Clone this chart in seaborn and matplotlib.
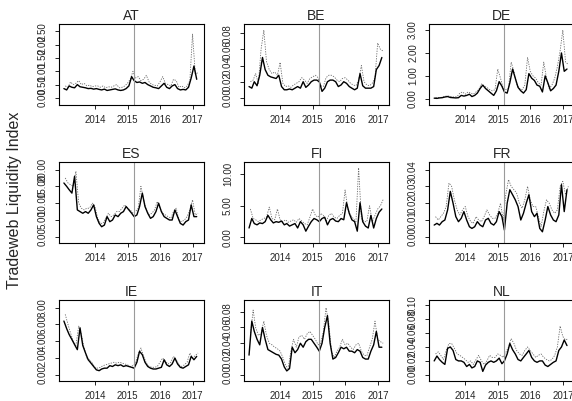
import pandas as pd
import seaborn as sns
import matplotlib.pyplot as plt
import numpy as np

# monthly readings Jan 2013 .. Feb 2017 (smoothed line) and mid-month raw index (dashed)
countries = ['AT', 'BE', 'DE', 'ES', 'FI', 'FR', 'IE', 'IT', 'NL']

at_line = [0.35, 0.30, 0.45, 0.40, 0.38, 0.50, 0.42, 0.40, 0.38, 0.35, 0.36, 0.33,
           0.35, 0.32, 0.30, 0.33, 0.28, 0.30, 0.32, 0.34, 0.30, 0.28, 0.30, 0.35,
           0.45, 0.80, 0.65, 0.58, 0.60, 0.55, 0.58, 0.50, 0.45, 0.40, 0.38, 0.35,
           0.45, 0.55, 0.40, 0.35, 0.45, 0.50, 0.35, 0.30, 0.32, 0.30, 0.40, 0.75,
           1.20, 0.70]
at_raw = [0.45, 0.40, 0.60, 0.50, 0.55, 0.65, 0.50, 0.55, 0.45, 0.48, 0.42, 0.45,
          0.45, 0.40, 0.45, 0.38, 0.42, 0.40, 0.45, 0.50, 0.38, 0.40, 0.45, 0.55,
          0.70, 1.00, 0.75, 0.80, 0.65, 0.70, 0.85, 0.60, 0.50, 0.48, 0.45, 0.60,
          0.80, 0.55, 0.50, 0.45, 0.70, 0.65, 0.40, 0.45, 0.38, 0.45, 0.65, 2.40,
          0.90, 0.95]

be_line = [0.014, 0.012, 0.020, 0.015, 0.028, 0.050, 0.035, 0.028, 0.026, 0.025, 0.024, 0.028,
           0.014, 0.010, 0.010, 0.011, 0.010, 0.012, 0.014, 0.012, 0.020, 0.013, 0.016, 0.020,
           0.022, 0.022, 0.020, 0.008, 0.012, 0.020, 0.022, 0.022, 0.020, 0.014, 0.016, 0.020,
           0.018, 0.014, 0.012, 0.010, 0.012, 0.030, 0.015, 0.012, 0.012, 0.012, 0.014, 0.035,
           0.040, 0.050]
be_raw = [0.020, 0.022, 0.030, 0.018, 0.060, 0.084, 0.045, 0.035, 0.030, 0.032, 0.028, 0.044,
          0.018, 0.014, 0.015, 0.013, 0.016, 0.018, 0.020, 0.025, 0.022, 0.018, 0.024, 0.026,
          0.028, 0.025, 0.015, 0.014, 0.025, 0.028, 0.028, 0.026, 0.022, 0.020, 0.024, 0.025,
          0.022, 0.018, 0.016, 0.015, 0.022, 0.040, 0.020, 0.016, 0.015, 0.018, 0.025, 0.068,
          0.060, 0.058]

de_line = [0.03, 0.02, 0.04, 0.05, 0.08, 0.10, 0.06, 0.05, 0.04, 0.05, 0.15, 0.12,
           0.15, 0.20, 0.10, 0.15, 0.25, 0.45, 0.60, 0.45, 0.35, 0.25, 0.15, 0.35,
           0.75, 0.55, 0.30, 0.25, 0.70, 1.30, 0.90, 0.50, 0.35, 0.25, 0.40, 1.10,
           0.90, 0.80, 0.60, 0.55, 0.30, 1.00, 0.70, 0.35, 0.45, 0.60, 1.20, 2.00,
           1.20, 1.30]
de_raw = [0.05, 0.06, 0.06, 0.09, 0.12, 0.12, 0.09, 0.08, 0.10, 0.25, 0.30, 0.20,
          0.30, 0.25, 0.20, 0.30, 0.40, 0.65, 0.55, 0.50, 0.40, 0.35, 0.40, 1.30,
          0.90, 0.45, 0.40, 0.45, 1.60, 1.20, 0.65, 0.45, 0.40, 0.60, 1.80, 1.20,
          1.00, 0.90, 0.70, 0.60, 1.60, 0.90, 0.45, 0.60, 0.90, 1.40, 2.10, 3.00,
          1.60, 1.50]

es_line = [16.0, 15.0, 14.0, 13.0, 18.0, 8.0, 7.5, 7.0, 7.5, 7.0, 8.0, 9.5,
           6.0, 4.0, 3.0, 3.5, 6.0, 4.5, 5.0, 6.5, 6.0, 7.0, 7.5, 9.0,
           8.0, 7.0, 6.0, 6.5, 9.0, 13.0, 9.0, 7.0, 5.5, 6.0, 7.5, 10.0,
           7.5, 6.0, 5.5, 5.0, 5.0, 8.0, 6.0, 4.0, 3.5, 4.5, 5.0, 9.5,
           6.0, 6.0]
es_raw = [17.5, 16.0, 15.5, 15.0, 19.5, 10.0, 8.5, 8.0, 8.5, 8.5, 10.0, 9.0,
          5.5, 4.0, 4.0, 5.5, 7.0, 6.0, 6.5, 7.5, 7.5, 8.5, 9.5, 8.5,
          8.0, 7.0, 7.5, 8.5, 15.0, 11.0, 8.0, 6.5, 7.0, 8.0, 10.5, 8.5,
          7.0, 6.5, 6.0, 5.5, 7.5, 8.5, 5.0, 4.5, 5.0, 6.0, 8.0, 11.0,
          6.5, 7.0]

fi_line = [1.5, 3.0, 2.2, 2.0, 2.3, 2.2, 2.5, 3.5, 2.8, 2.3, 2.5, 2.4,
           2.6, 2.0, 2.2, 1.8, 2.0, 2.2, 1.5, 2.5, 2.0, 1.0, 1.8, 2.5,
           3.0, 2.8, 2.5, 3.0, 3.2, 2.0, 2.8, 3.0, 2.6, 2.5, 3.0, 2.8,
           5.5, 3.8, 2.8, 2.5, 1.0, 5.5, 2.5, 1.8, 1.5, 3.5, 1.5, 3.0,
           4.0, 4.5]
fi_raw = [4.5, 3.0, 2.8, 2.5, 2.8, 3.0, 3.2, 4.8, 3.0, 2.8, 4.5, 2.8,
          2.5, 2.8, 2.4, 2.6, 2.8, 2.4, 3.0, 2.6, 2.2, 2.0, 3.2, 4.5,
          3.5, 3.2, 3.8, 3.5, 2.5, 3.5, 3.8, 3.2, 3.0, 3.5, 3.8, 7.5,
          4.5, 3.5, 3.0, 2.5, 11.0, 3.0, 2.5, 2.5, 5.0, 2.5, 3.5, 4.5,
          5.0, 6.0]

fr_line = [0.007, 0.008, 0.007, 0.009, 0.010, 0.016, 0.027, 0.020, 0.012, 0.009, 0.011, 0.015,
           0.010, 0.006, 0.005, 0.006, 0.009, 0.007, 0.006, 0.010, 0.011, 0.008, 0.007, 0.009,
           0.015, 0.012, 0.004, 0.020, 0.028, 0.025, 0.022, 0.018, 0.010, 0.014, 0.020, 0.025,
           0.015, 0.012, 0.014, 0.005, 0.003, 0.010, 0.018, 0.013, 0.010, 0.009, 0.013, 0.031,
           0.015, 0.028]
fr_raw = [0.012, 0.010, 0.012, 0.014, 0.018, 0.032, 0.030, 0.022, 0.016, 0.013, 0.016, 0.018,
          0.012, 0.009, 0.008, 0.012, 0.010, 0.009, 0.012, 0.016, 0.013, 0.011, 0.011, 0.014,
          0.020, 0.010, 0.025, 0.034, 0.030, 0.028, 0.026, 0.020, 0.017, 0.022, 0.030, 0.022,
          0.018, 0.018, 0.012, 0.006, 0.015, 0.022, 0.020, 0.016, 0.014, 0.016, 0.030, 0.033,
          0.025, 0.030]

ie_line = [6.4, 5.5, 4.8, 4.2, 3.6, 3.0, 5.6, 3.5, 2.6, 1.8, 1.4, 1.0,
           0.6, 0.5, 0.7, 0.8, 0.8, 1.1, 1.0, 1.2, 1.1, 1.2, 1.0, 1.1,
           1.0, 0.9, 0.8, 1.5, 2.8, 2.4, 1.5, 1.0, 0.8, 0.7, 0.7, 0.8,
           0.9, 1.8, 1.2, 1.0, 1.3, 2.0, 1.3, 0.9, 0.8, 1.0, 1.2, 2.2,
           1.8, 2.2]
ie_raw = [7.2, 6.0, 5.0, 4.0, 3.5, 5.8, 4.8, 3.2, 2.0, 1.8, 1.4, 0.9,
          0.8, 0.9, 1.1, 1.2, 1.3, 1.4, 1.5, 1.4, 1.5, 1.4, 1.3, 1.2,
          1.0, 1.1, 1.4, 2.5, 3.2, 2.2, 1.4, 1.0, 0.9, 0.9, 1.0, 1.5,
          2.0, 1.6, 1.3, 1.5, 2.2, 1.8, 1.2, 1.0, 1.2, 1.5, 2.6, 2.0,
          2.3, 2.6]

it_line = [0.025, 0.068, 0.055, 0.045, 0.038, 0.060, 0.045, 0.032, 0.030, 0.028, 0.026, 0.025,
           0.020, 0.010, 0.005, 0.008, 0.035, 0.028, 0.032, 0.040, 0.035, 0.042, 0.045, 0.045,
           0.040, 0.035, 0.030, 0.040, 0.060, 0.075, 0.040, 0.020, 0.022, 0.028, 0.035, 0.033,
           0.035, 0.030, 0.030, 0.028, 0.032, 0.030, 0.022, 0.020, 0.020, 0.030, 0.038, 0.055,
           0.035, 0.035]
it_raw = [0.050, 0.082, 0.060, 0.050, 0.052, 0.068, 0.050, 0.040, 0.038, 0.035, 0.033, 0.030,
          0.022, 0.012, 0.008, 0.030, 0.045, 0.035, 0.048, 0.050, 0.045, 0.052, 0.055, 0.050,
          0.045, 0.038, 0.040, 0.055, 0.085, 0.065, 0.030, 0.022, 0.030, 0.035, 0.045, 0.038,
          0.040, 0.035, 0.032, 0.038, 0.040, 0.030, 0.025, 0.024, 0.035, 0.045, 0.068, 0.045,
          0.042, 0.040]

nl_line = [0.020, 0.027, 0.022, 0.018, 0.015, 0.038, 0.040, 0.035, 0.022, 0.020, 0.020, 0.018,
           0.012, 0.015, 0.010, 0.012, 0.020, 0.018, 0.005, 0.014, 0.018, 0.020, 0.018, 0.020,
           0.024, 0.016, 0.020, 0.030, 0.045, 0.036, 0.030, 0.022, 0.020, 0.025, 0.030, 0.035,
           0.025, 0.020, 0.018, 0.020, 0.020, 0.014, 0.012, 0.015, 0.018, 0.020, 0.035, 0.040,
           0.050, 0.042]
nl_raw = [0.030, 0.033, 0.028, 0.022, 0.035, 0.045, 0.045, 0.038, 0.030, 0.028, 0.025, 0.022,
          0.018, 0.020, 0.015, 0.022, 0.028, 0.020, 0.015, 0.020, 0.028, 0.025, 0.025, 0.030,
          0.028, 0.025, 0.032, 0.040, 0.052, 0.045, 0.035, 0.030, 0.028, 0.035, 0.040, 0.035,
          0.030, 0.025, 0.028, 0.030, 0.025, 0.022, 0.020, 0.022, 0.028, 0.040, 0.070, 0.055,
          0.050, 0.052]

lines = [at_line, be_line, de_line, es_line, fi_line, fr_line, ie_line, it_line, nl_line]
raws = [at_raw, be_raw, de_raw, es_raw, fi_raw, fr_raw, ie_raw, it_raw, nl_raw]

yticks = [[0.0, 0.5, 1.0, 1.5, 2.0, 2.5],
          [0.0, 0.02, 0.04, 0.06, 0.08],
          [0.0, 1.0, 2.0, 3.0],
          [0.0, 5.0, 10.0, 15.0, 20.0],
          [0.0, 5.0, 10.0],
          [0.0, 0.01, 0.02, 0.03, 0.04],
          [0.0, 2.0, 4.0, 6.0, 8.0],
          [0.0, 0.02, 0.04, 0.06, 0.08],
          [0.0, 0.02, 0.04, 0.06, 0.08, 0.10]]
ylims = [(-0.26, 2.78), (-0.0086, 0.0914), (-0.26, 3.26), (-1.8, 22.2), (-0.85, 11.9),
         (-0.0036, 0.0444), (-0.72, 8.88), (-0.0077, 0.0945), (-0.0087, 0.107)]

dates = pd.date_range('2013-01-01', periods=50, freq='MS') + pd.Timedelta(days=14)
raw_dates = dates + pd.Timedelta(days=15)
qe_date = pd.Timestamp('2015-03-09')
years = ['2014', '2015', '2016', '2017']

sns.set_style('white')
plt.rcParams['font.family'] = ['Liberation Sans', 'DejaVu Sans']

fig, axes = plt.subplots(3, 3, figsize=(5.72, 4.01), dpi=100)
fig.subplots_adjust(left=0.103, right=1.004, top=0.940, bottom=0.050, wspace=0.276, hspace=0.71)

for i, ax in enumerate(axes.flat):
    sns.lineplot(x=raw_dates, y=raws[i], ax=ax, color='#6a6a6a', lw=0.6, linestyle=(0, (1.5, 1.5)))
    sns.lineplot(x=dates, y=lines[i], ax=ax, color='black', lw=1.0)
    ax.axvline(qe_date, color='#9a9a9a', lw=0.8)
    ax.set_xlim(pd.Timestamp('2012-11-20'), pd.Timestamp('2017-05-08'))
    ax.set_ylim(*ylims[i])
    ax.set_xticks([pd.Timestamp(y + '-01-01') for y in years])
    ax.set_xticklabels(years, fontsize=7)
    ax.set_yticks(yticks[i])
    ax.set_yticklabels(['%.2f' % v for v in yticks[i]], rotation=90, va='center', fontsize=7)
    ax.tick_params(direction='out', length=3, width=0.6, color='black', left=True, bottom=True)
    ax.tick_params(axis='x', pad=4)
    ax.tick_params(axis='y', pad=5)
    for s in ax.spines.values():
        s.set_color('black')
        s.set_linewidth(0.8)
    ax.set_title(countries[i], fontsize=10, pad=3)
    ax.set_xlabel('')
    ax.set_ylabel('')

fig.text(0.026, 0.5, 'Tradeweb Liquidity Index', rotation=90, va='center', ha='center', fontsize=11.5)

fig.savefig('out.png', dpi=100)
